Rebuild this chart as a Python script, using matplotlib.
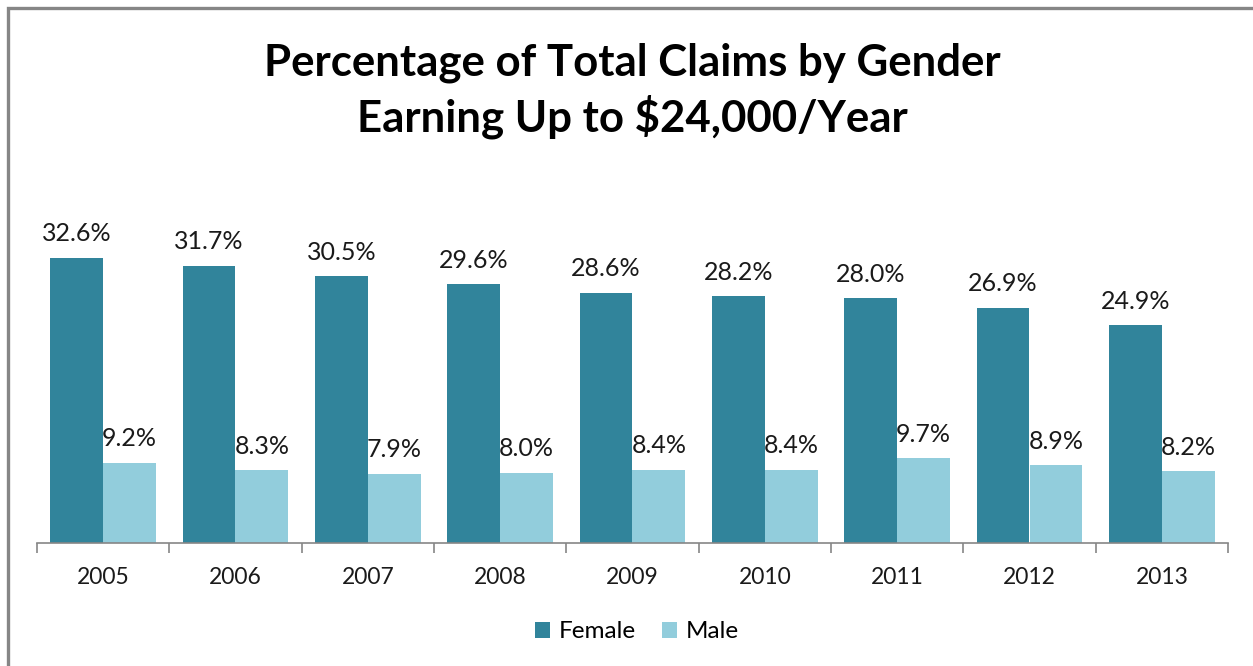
import numpy as np
import matplotlib.pyplot as plt
from matplotlib.patches import Rectangle

plt.rcParams['font.family'] = ['Lato', 'DejaVu Sans']

years = ['2005', '2006', '2007', '2008', '2009', '2010', '2011', '2012', '2013']
female = [32.6, 31.7, 30.5, 29.6, 28.6, 28.2, 28.0, 26.9, 24.9]
male = [9.2, 8.3, 7.9, 8.0, 8.4, 8.4, 9.7, 8.9, 8.2]

female_color = '#31849B'
male_color = '#92CDDC'
grey = '#868686'

W, H = 1253, 666
fig = plt.figure(figsize=(W / 100, H / 100), dpi=100)

# chart border (only top and left visible in the crop)
fig.patches.append(Rectangle((8 / W, -0.1), 1.2, 1.1 - 8 / H, transform=fig.transFigure,
                             fill=False, edgecolor=grey, linewidth=2.4, zorder=0))

ax = fig.add_axes([37 / W, (H - 543) / H, (1228 - 37) / W, (543 - 200) / H])

x = np.arange(len(years))
w = 0.4
b1 = ax.bar(x - w / 2, female, w, color=female_color, label='Female')
b2 = ax.bar(x + w / 2, male, w, color=male_color, label='Male')

for bars in (b1, b2):
    for rect in bars:
        ax.annotate(f"{rect.get_height():.1f}%", (rect.get_x() + rect.get_width() / 2, rect.get_height()),
                    xytext=(0, 9), textcoords='offset points', ha='center', va='bottom',
                    fontsize=18, color='#1a1a1a')

ax.set_xlim(-0.5, len(years) - 0.5)
ax.set_ylim(0, 39.2)
ax.set_yticks([])
ax.set_xticks(np.arange(len(years) + 1) - 0.5, minor=True)
ax.set_xticks(x)
ax.set_xticklabels(years, fontsize=16.5, color='#1a1a1a')
ax.tick_params(axis='x', which='major', length=0, pad=17)
ax.tick_params(axis='x', which='minor', length=7, width=1.2, color=grey)

for s in ('top', 'right', 'left'):
    ax.spines[s].set_visible(False)
ax.spines['bottom'].set_color(grey)
ax.spines['bottom'].set_linewidth(1.2)

fig.text(632 / W, 1 - 91 / H, 'Percentage of Total Claims by Gender\nEarning Up to $24,000/Year',
         ha='center', va='center', fontsize=31.5, fontweight='bold', linespacing=1.32)

fig.legend(handles=[b1, b2], labels=['Female', 'Male'], loc='center', bbox_to_anchor=(637 / W, 1 - 632 / H),
           ncol=2, frameon=False, fontsize=17.5, handlelength=0.6, handleheight=0.6, columnspacing=1.1,
           handletextpad=0.35)

fig.savefig('out.png', dpi=100)
